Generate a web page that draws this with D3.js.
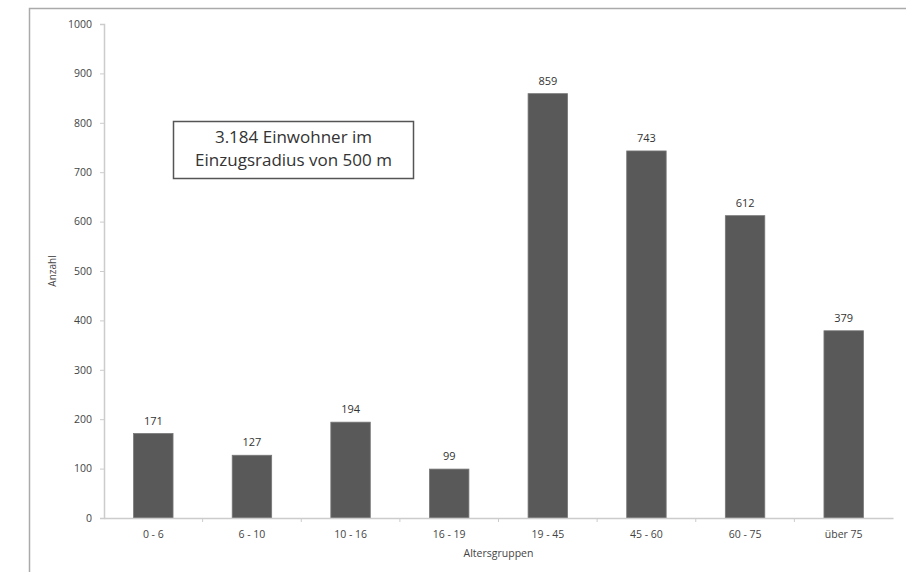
<!DOCTYPE html>
<html><head><meta charset="utf-8">
<script src="https://cdn.jsdelivr.net/npm/d3@7"></script>
<style>body{margin:0;background:#fff}svg{display:block}text{font-family:"Open Sans","Noto Sans",sans-serif}</style>
</head><body>
<svg id="c" width="910" height="572"></svg>
<script>
const categories = ["0 - 6","6 - 10","10 - 16","16 - 19","19 - 45","45 - 60","60 - 75","über 75"];
const values = [171,127,194,99,859,743,612,379];
const yTicks = [0,100,200,300,400,500,600,700,800,900,1000];
const yTitle = "Anzahl";
const xTitle = "Altersgruppen";
const note = ["3.184 Einwohner im","Einzugsradius von 500 m"];

const svg = d3.select("#c");
// frame (left + top)
svg.append("path").attr("d","M29.5,572 L29.5,8.5 L906,8.5").attr("fill","none").attr("stroke","#aaa").attr("stroke-width",1.5);

const x = d3.scaleBand().domain(categories).range([104,893]).paddingInner(0.6).paddingOuter(0.3);
const xb = d3.scaleBand().domain(categories).range([104,893]);
const y = d3.scaleLinear().domain([0,1000]).range([518,24]);

// y axis
const ya = svg.append("g").attr("transform","translate(104,0)")
  .call(d3.axisLeft(y).tickValues(yTicks).tickFormat(d3.format("d")).tickSize(4).tickPadding(8));
ya.select(".domain").attr("stroke","#ccc").attr("stroke-width",1.5);
ya.selectAll(".tick line").attr("stroke","#ccc");
ya.selectAll("text").attr("fill","#444").attr("font-size",10.5);

// bars
svg.selectAll("rect.bar").data(values).join("rect").attr("class","bar")
  .attr("x",(d,i)=>x(categories[i])).attr("width",x.bandwidth())
  .attr("y",d=>y(d)).attr("height",d=>y(0)-y(d))
  .attr("fill","#595959").attr("stroke","#777").attr("stroke-width",0.8);

// x axis
const xa = svg.append("g").attr("transform","translate(0,518)")
  .call(d3.axisBottom(xb).tickSize(0).tickPadding(13));
xa.select(".domain").attr("stroke","#ccc").attr("stroke-width",1.5);
xa.selectAll("text").attr("fill","#444").attr("font-size",10.5);
// between-category ticks
svg.append("g").selectAll("line").data(categories.slice(1)).join("line")
  .attr("x1",d=>xb(d)).attr("x2",d=>xb(d)).attr("y1",518).attr("y2",522)
  .attr("stroke","#ccc");

// value labels
svg.selectAll("text.val").data(values).join("text").attr("class","val")
  .attr("x",(d,i)=>x(categories[i])+x.bandwidth()/2).attr("y",d=>y(d)-9)
  .attr("text-anchor","middle").attr("font-size",11).attr("fill","#333").text(d=>d);

// titles
svg.append("text").attr("x",(104+893)/2).attr("y",557).attr("text-anchor","middle")
  .attr("font-size",10.5).attr("fill","#444").text(xTitle);
svg.append("text").attr("transform","translate(56,271) rotate(-90)").attr("text-anchor","middle")
  .attr("font-size",10).attr("fill","#444").text(yTitle);

// annotation box
svg.append("rect").attr("x",173.5).attr("y",121.5).attr("width",240).attr("height",57)
  .attr("fill","#fff").attr("stroke","#555").attr("stroke-width",1.5);
svg.selectAll("text.note").data(note).join("text").attr("class","note")
  .attr("x",293.5).attr("y",(d,i)=>143+i*23).attr("text-anchor","middle")
  .attr("font-size",17).attr("fill","#333").text(d=>d);
</script>
</body></html>
